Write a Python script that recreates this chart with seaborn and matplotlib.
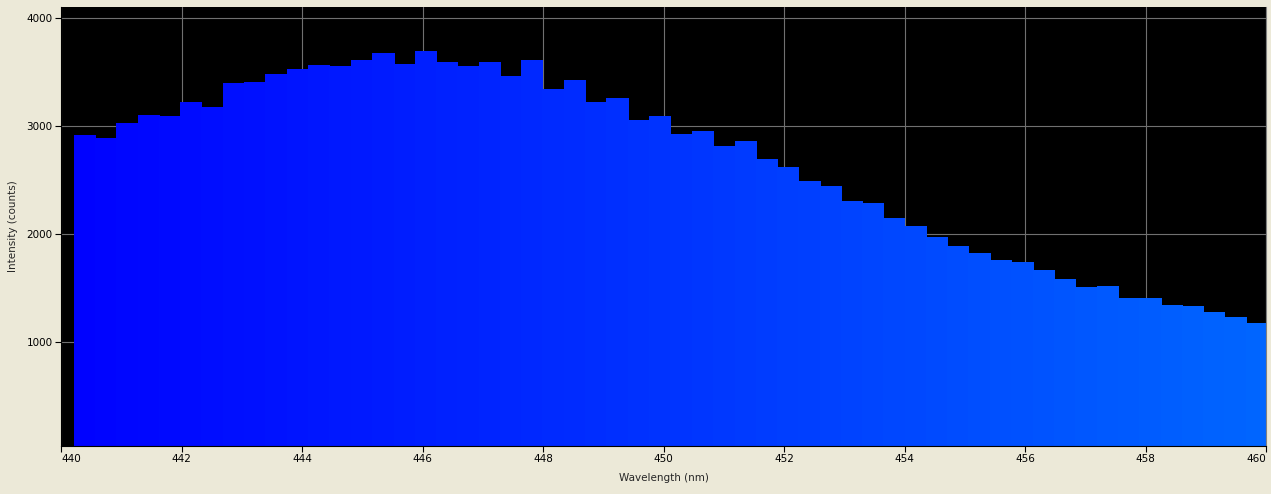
import matplotlib
matplotlib.use("Agg")
import matplotlib.pyplot as plt
import seaborn as sns

# spectrum readings: left edge of each pixel bin (nm) and intensity (counts)
wavelength = [440.21, 440.56, 440.92, 441.27, 441.62, 441.98, 442.33, 442.69,
              443.04, 443.39, 443.75, 444.10, 444.45, 444.81, 445.16, 445.52,
              445.87, 446.22, 446.58, 446.93, 447.28, 447.64, 447.99, 448.35,
              448.70, 449.05, 449.41, 449.76, 450.11, 450.47, 450.82, 451.18,
              451.53, 451.88, 452.24, 452.59, 452.94, 453.30, 453.65, 454.00,
              454.36, 454.71, 455.06, 455.42, 455.77, 456.13, 456.48, 456.83,
              457.19, 457.54, 457.89, 458.25, 458.60, 458.96, 459.31, 459.66]
intensity = [2917, 2894, 3031, 3105, 3095, 3225, 3179, 3401,
             3410, 3484, 3530, 3567, 3558, 3614, 3679, 3577,
             3697, 3595, 3558, 3595, 3466, 3614, 3345, 3429,
             3225, 3262, 3058, 3095, 2929, 2956, 2817, 2864,
             2697, 2623, 2493, 2447, 2308, 2290, 2151, 2077,
             1975, 1892, 1827, 1762, 1744, 1669, 1586, 1512,
             1521, 1410, 1410, 1345, 1336, 1281, 1234, 1179]
last_edge = 460.01
x_ticks = [440, 442, 444, 446, 448, 450, 452, 454, 456, 458, 460]
y_ticks = [1000, 2000, 3000, 4000]

sns.set_style("dark")
plt.rcParams['font.family'] = ['DejaVu Sans']

fig = plt.figure(figsize=(12.71, 4.94), dpi=100, facecolor="#ECE9D8")
ax = fig.add_axes([61 / 1271, 1 - 446 / 494, 1205 / 1271, 439 / 494])
ax.set_facecolor("black")

sns.histplot(x=wavelength, weights=intensity, bins=wavelength + [last_edge],
             element="bars", linewidth=0.6, alpha=1, ax=ax, zorder=2)

# colour each bin by its wavelength (violet-blue -> blue ramp)
for p in ax.patches:
    mid = p.get_x() + p.get_width() / 2
    g = min(max((mid - 440) / 50, 0), 1)
    p.set_facecolor((0, g, 1))
    p.set_edgecolor((0, g, 1))
    p.set_antialiased(False)

ax.set_xlim(440, 460)
ax.set_ylim(40, 4105)
ax.set_xticks(x_ticks)
ax.set_yticks(y_ticks)
ax.grid(True, color="#707070", linewidth=0.8, zorder=0)
ax.set_axisbelow(True)

ax.tick_params(axis="both", direction="out", length=4, width=0.8, colors="black",
               labelsize=7.5, bottom=True, left=True, pad=2)
xlabels = ax.get_xticklabels()
xlabels[0].set_horizontalalignment("left")
xlabels[-1].set_horizontalalignment("right")
ax.set_xlabel("Wavelength (nm)", fontsize=7.5, labelpad=6)
ax.set_ylabel("Intensity (counts)", fontsize=7.5, labelpad=6)

for side in ["left", "bottom"]:
    ax.spines[side].set_color("black")
    ax.spines[side].set_linewidth(0.8)
ax.spines["right"].set_color("#808080")
ax.spines["top"].set_visible(False)

fig.savefig("out.png", dpi=100, facecolor=fig.get_facecolor())
